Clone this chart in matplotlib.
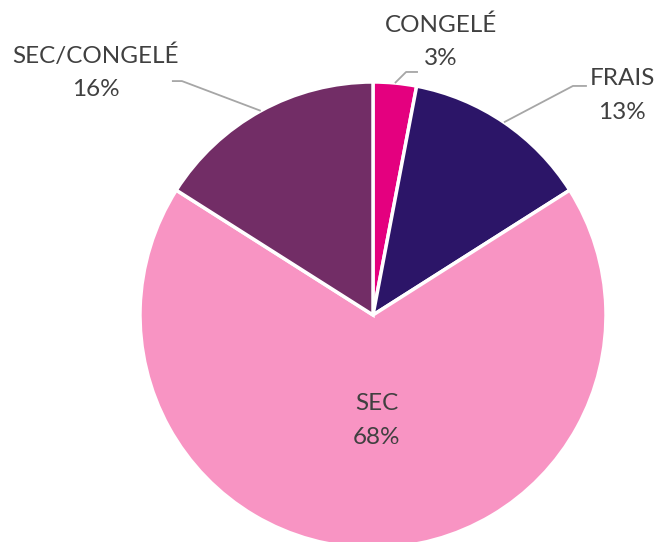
import matplotlib.pyplot as plt
import numpy as np

plt.rcParams['font.family'] = ['Lato', 'DejaVu Sans']

categories = ['CONGELÉ', 'FRAIS', 'SEC', 'SEC/CONGELÉ']
shares = [3, 13, 68, 16]
colors = ['#E4007F', '#2C1568', '#F894C3', '#722D66']

# label placement (data units, pie radius = 1): text centre x, first line y, elbow, line end
label_x = {'CONGELÉ': 0.29, 'FRAIS': 1.07, 'SEC/CONGELÉ': -1.19}
label_y = {'CONGELÉ': 1.245, 'FRAIS': 1.017, 'SEC/CONGELÉ': 1.112}
elbow = {'CONGELÉ': (0.142, 1.043), 'FRAIS': (0.858, 0.983), 'SEC/CONGELÉ': (-0.820, 1.004)}
line_end = {'CONGELÉ': 0.193, 'FRAIS': 0.918, 'SEC/CONGELÉ': -0.863}

text_color = '#404040'
line_color = '#A6A6A6'

fig = plt.figure(figsize=(6.58, 5.42), dpi=100)
R_px = 233
cx, cy = 373, 542 - 315
ax = fig.add_axes([(cx - R_px) / 658, (cy - R_px) / 542, 2 * R_px / 658, 2 * R_px / 542])

wedges, _ = ax.pie(shares, colors=colors, startangle=90, counterclock=False,
                   wedgeprops=dict(edgecolor='white', linewidth=2.5))
ax.set_xlim(-1, 1)
ax.set_ylim(-1, 1)
ax.set_aspect('equal')
ax.axis('off')

fs = 17.5
for w, cat, val in zip(wedges, categories, shares):
    mid = np.deg2rad((w.theta1 + w.theta2) / 2)
    if cat == 'SEC':
        ax.text(0.017, -0.378, cat, ha='center', va='center', fontsize=fs, color=text_color)
        ax.text(0.017, -0.524, f'{val}%', ha='center', va='center', fontsize=fs, color=text_color)
        continue
    ax0, ay0 = np.cos(mid), np.sin(mid)
    ex, ey = elbow[cat]
    ax.plot([ax0, ex, line_end[cat]], [ay0, ey, ey], color=line_color, lw=1.3,
            clip_on=False, solid_capstyle='butt')
    ty = label_y[cat]
    ax.text(label_x[cat], ty, cat, ha='center', va='center', fontsize=fs, color=text_color)
    ax.text(label_x[cat], ty - 0.146, f'{val}%', ha='center', va='center', fontsize=fs,
            color=text_color)

fig.savefig('out.png', dpi=100)
plt.close(fig)
